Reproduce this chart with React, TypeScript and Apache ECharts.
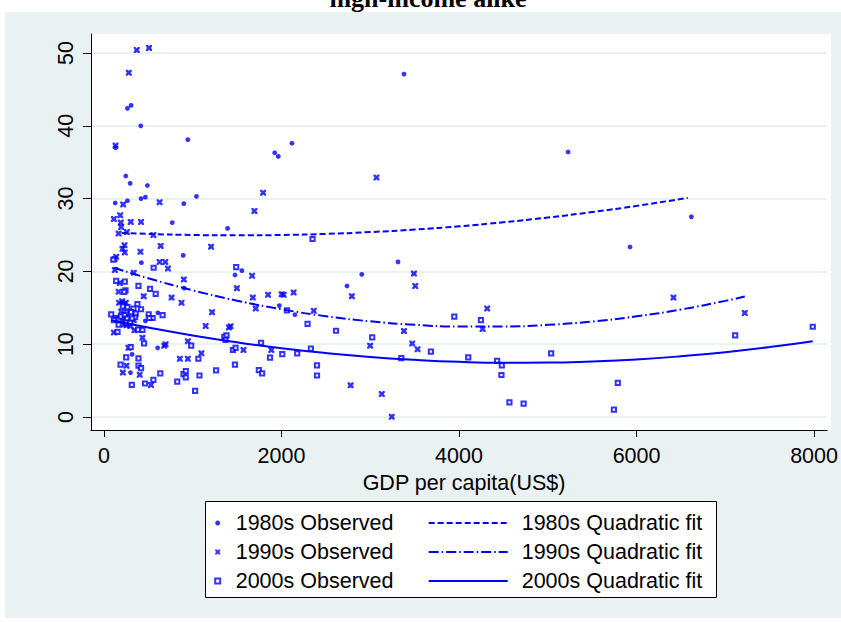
import React, { useEffect, useRef } from "react";
import * as echarts from "echarts";

const titleText = "high-income alike";
const xAxisName = "GDP per capita(US$)";
const xTicks = [0, 2000, 4000, 6000, 8000];
const yTicks = [0, 10, 20, 30, 40, 50];
const seriesNames = [
  "1980s Observed",
  "1990s Observed",
  "2000s Observed",
  "1980s Quadratic fit",
  "1990s Quadratic fit",
  "2000s Quadratic fit",
];

// observed points [GDP per capita, value]
const obs1980 = [
  [265, 42.4], [306, 42.8], [415, 40.0], [945, 38.1], [131, 37.0], [246, 33.1],
  [295, 32.1], [490, 31.8], [1042, 30.3], [127, 29.4], [265, 29.7], [418, 30.0],
  [467, 30.2], [900, 29.3], [770, 26.7], [893, 22.2], [422, 21.2], [904, 17.7],
  [608, 14.3], [467, 13.2], [605, 9.5], [317, 8.6], [299, 6.1], [2118, 37.6],
  [1924, 36.3], [1964, 35.8], [1393, 25.9], [1554, 20.1], [1476, 19.5], [2905, 19.6],
  [2738, 18.0], [1976, 15.3], [2151, 14.05], [3380, 47.1], [5229, 36.4], [3313, 21.3],
  [6618, 27.5], [5927, 23.35],
];
const obs1990 = [
  [370, 50.4], [508, 50.7], [280, 47.3], [131, 37.3], [217, 29.2], [627, 29.5],
  [112, 27.2], [183, 27.7], [190, 26.7], [194, 26.1], [302, 26.8], [418, 26.8],
  [165, 25.2], [258, 25.4], [557, 25.0], [232, 23.6], [209, 23.1], [235, 22.6],
  [639, 23.5], [411, 22.7], [1207, 23.4], [138, 22.0], [120, 21.7], [627, 21.3],
  [691, 21.3], [721, 20.4], [123, 20.2], [336, 19.8], [900, 18.9], [179, 18.4],
  [165, 17.2], [448, 16.6], [762, 16.4], [874, 15.7], [171, 15.7], [205, 15.9],
  [224, 15.5], [246, 15.7], [194, 14.5], [1218, 14.4], [224, 12.7], [254, 12.6],
  [299, 12.5], [344, 11.9], [112, 11.6], [434, 10.9], [1146, 12.5], [945, 10.4],
  [680, 9.8], [695, 10.0], [276, 9.5], [1098, 8.75], [855, 8.0], [945, 8.0],
  [254, 7.05], [213, 6.1], [403, 5.8], [530, 4.4], [3070, 32.9], [1793, 30.8],
  [1695, 28.3], [1669, 19.4], [1498, 17.7], [1677, 16.4], [1849, 16.8], [2002, 16.85],
  [2025, 16.8], [2137, 17.1], [1710, 14.9], [2364, 14.6], [2999, 9.8], [1427, 12.45],
  [1408, 12.3], [1572, 9.2], [1886, 9.2], [2779, 4.35], [3130, 3.15], [3242, 0.05],
  [3492, 19.7], [3507, 18.0], [2793, 16.6], [4317, 14.9], [4266, 12.1], [3380, 11.8],
  [3473, 10.1], [3533, 9.3], [6416, 16.4], [7219, 14.3], [220, 13.2], [336, 13.3],
];
const obs2000 = [
  [105, 21.6], [560, 20.5], [138, 18.7], [235, 18.6], [389, 18.0], [519, 17.6],
  [583, 16.9], [243, 17.4], [228, 17.2], [377, 15.5], [213, 15.2], [265, 15.1],
  [333, 14.9], [418, 14.8], [254, 14.3], [306, 14.4], [358, 14.2], [504, 14.1],
  [549, 13.6], [512, 13.6], [661, 14.0], [82, 14.1], [134, 13.6], [165, 13.4],
  [112, 13.3], [190, 13.8], [235, 14.0], [261, 13.5], [250, 12.95], [295, 12.95],
  [351, 13.7], [317, 13.55], [165, 12.7], [384, 12.0], [434, 11.95], [153, 11.7],
  [452, 10.1], [983, 9.8], [302, 9.6], [250, 8.2], [389, 8.06], [1064, 8.0],
  [187, 7.2], [389, 7.05], [1263, 6.4], [418, 6.7], [635, 6.0], [896, 5.9],
  [922, 6.3], [922, 5.45], [1076, 5.7], [826, 4.85], [557, 5.1], [463, 4.6],
  [314, 4.4], [1027, 3.6], [2350, 24.45], [1490, 20.6], [2062, 14.65], [2294, 12.8],
  [2614, 11.85], [3022, 10.95], [1356, 11.0], [1381, 11.2], [1370, 10.6], [1453, 9.2],
  [1483, 9.5], [1770, 10.2], [1871, 8.15], [2009, 8.65], [2177, 8.75], [2331, 9.4],
  [1476, 7.2], [1745, 6.45], [1782, 6.0], [2400, 7.1], [2400, 5.7], [3947, 13.8],
  [4247, 13.3], [3683, 8.97], [3350, 8.1], [4104, 8.2], [4429, 7.7], [4482, 7.1],
  [4478, 5.77], [5038, 8.75], [4568, 2.0], [4728, 1.83], [7111, 11.2], [7985, 12.4],
  [5789, 4.7], [5745, 1.0],
];

// quadratic fit curves
const fit1980 = [
  [200, 25.29], [500, 25.15], [1000, 25.0], [1500, 24.95], [2000, 25.0], [2500, 25.15],
  [3000, 25.4], [3500, 25.75], [4000, 26.2], [4500, 26.75], [5000, 27.4], [5500, 28.15],
  [6000, 29.0], [6577, 30.1],
];
const fit1990 = [
  [112, 20.5], [500, 19.06], [1000, 17.4], [1500, 15.98], [2000, 14.8], [2500, 13.85],
  [3000, 13.14], [3500, 12.67], [4000, 12.43], [4500, 12.43], [5000, 12.66], [5500, 13.12],
  [6000, 13.83], [6500, 14.77], [7000, 15.95], [7219, 16.54],
];
const fit2000 = [
  [82, 13.3], [500, 12.29], [1000, 11.2], [1500, 10.26], [2000, 9.45], [2500, 8.78],
  [3000, 8.24], [3500, 7.85], [4000, 7.58], [4500, 7.46], [5000, 7.47], [5500, 7.63],
  [6000, 7.91], [6500, 8.34], [7000, 8.9], [7500, 9.6], [7985, 10.41],
];

const BLUE = "#0000ff";
const PANEL = "#eaf1f3";
const SANS = '"Liberation Sans", Arial, Helvetica, sans-serif';
const FS = 21.5;
const X_SYMBOL =
  "path://M0,0L3,0L5,2L7,0L10,0L10,3L8,5L10,7L10,10L7,10L5,8L3,10L0,10L0,7L2,5L0,3Z";
const SQUARE_ICON = "path://M0,0H10V10H0Z";

export default function App() {
  const ref = useRef<HTMLDivElement>(null);
  useEffect(() => {
    if (!ref.current) return;
    const chart = echarts.init(ref.current, null, { renderer: "svg" });
    const legendText = { fontFamily: SANS, fontSize: FS, lineHeight: FS, color: "#000" };
    chart.setOption({
      animation: false,
      backgroundColor: "#ffffff",
      graphic: [
        {
          type: "rect",
          z: -10,
          silent: true,
          shape: { x: 5, y: 12, width: 836, height: 606 },
          style: { fill: PANEL },
        },
        {
          type: "rect",
          z: -9,
          silent: true,
          shape: { x: 91, y: 34, width: 740, height: 396 },
          style: { fill: "#ffffff" },
        },
        {
          type: "rect",
          z: -8,
          silent: true,
          shape: { x: 205.5, y: 501.5, width: 511, height: 96 },
          style: { fill: "#ffffff", stroke: "#000000", lineWidth: 1 },
        },
        {
          type: "text",
          z: 5,
          x: 428,
          y: -1.8,
          style: {
            text: titleText,
            fontFamily: '"Liberation Serif", "Times New Roman", serif',
            fontWeight: "bold",
            fontSize: 26,
            fill: "#000",
            align: "center",
            verticalAlign: "middle",
          },
        },
      ],
      grid: { left: 91, right: 10, top: 34, bottom: 192, containLabel: false },
      xAxis: {
        type: "value",
        min: -145.7,
        max: 8145.6,
        name: xAxisName,
        nameLocation: "middle",
        nameGap: 37,
        nameTextStyle: { fontFamily: SANS, fontSize: FS, color: "#000", padding: [0, 0, 0, 10] },
        axisLine: { show: true, onZero: false, lineStyle: { color: "#000", width: 1 } },
        axisTick: { show: true, length: 7, customValues: xTicks, lineStyle: { color: "#000", width: 1 } },
        axisLabel: {
          customValues: xTicks,
          margin: 15,
          fontFamily: SANS,
          fontSize: FS,
          color: "#000",
          formatter: (v: number) => String(v),
        },
        splitLine: { show: false },
      },
      yAxis: {
        type: "value",
        min: -1.786,
        max: 52.61,
        axisLine: { show: true, onZero: false, lineStyle: { color: "#000", width: 1 } },
        axisTick: { show: true, length: 8, customValues: yTicks, lineStyle: { color: "#000", width: 1 } },
        axisLabel: {
          customValues: yTicks,
          rotate: 90,
          margin: 14.5,
          fontFamily: SANS,
          fontSize: FS,
          color: "#000",
          formatter: (v: number) => String(v),
        },
        splitLine: { show: true, lineStyle: { color: PANEL, width: 2 } },
      },
      legend: [
        {
          data: [
            { name: seriesNames[0] },
            { name: seriesNames[1] },
            { name: seriesNames[2], icon: SQUARE_ICON },
          ],
          orient: "vertical",
          left: 214.2,
          top: 512,
          padding: 0,
          itemWidth: 26,
          itemHeight: 5,
          itemGap: 7,
          selectedMode: false,
          textStyle: legendText,
        },
        {
          data: seriesNames.slice(3),
          orient: "vertical",
          left: 427.7,
          top: 512,
          padding: 0,
          itemWidth: 79,
          itemHeight: 0.01,
          itemGap: 7,
          selectedMode: false,
          textStyle: { ...legendText, padding: [0, 0, 0, 9] },
        },
      ],
      series: [
        {
          name: seriesNames[0],
          type: "scatter",
          data: obs1980,
          symbol: "circle",
          symbolSize: 4.8,
          itemStyle: { color: BLUE },
          z: 3,
        },
        {
          name: seriesNames[1],
          type: "scatter",
          data: obs1990,
          symbol: X_SYMBOL,
          symbolSize: 6,
          itemStyle: { color: BLUE },
          z: 3,
        },
        {
          name: seriesNames[2],
          type: "scatter",
          data: obs2000,
          symbol: "rect",
          symbolSize: 4.2,
          itemStyle: { color: "#ffffff", borderColor: BLUE, borderWidth: 2 },
          z: 3,
        },
        {
          name: seriesNames[3],
          type: "line",
          data: fit1980,
          symbol: "none",
          smooth: true,
          lineStyle: { color: BLUE, width: 2, type: [6, 3] },
          itemStyle: { color: BLUE },
          z: 4,
        },
        {
          name: seriesNames[4],
          type: "line",
          data: fit1990,
          symbol: "none",
          smooth: true,
          lineStyle: { color: BLUE, width: 2, type: [10, 3, 1.5, 3] },
          itemStyle: { color: BLUE },
          z: 4,
        },
        {
          name: seriesNames[5],
          type: "line",
          data: fit2000,
          symbol: "none",
          smooth: true,
          lineStyle: { color: BLUE, width: 2, type: "solid" },
          itemStyle: { color: BLUE },
          z: 4,
        },
      ],
    });
    return () => chart.dispose();
  }, []);
  return (
    <div
      ref={ref}
      style={{ position: "fixed", left: 0, top: 0, width: 841, height: 622 }}
    />
  );
}
